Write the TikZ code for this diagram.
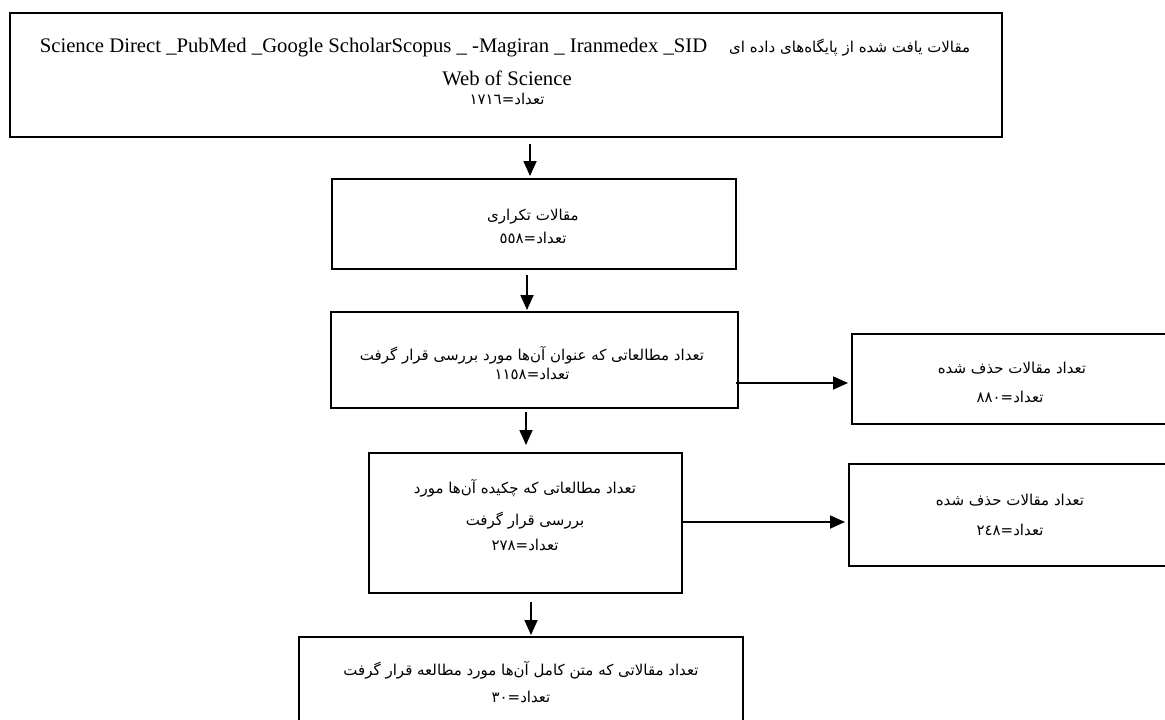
\documentclass[tikz,border=0pt]{standalone}
\usepackage{fontspec}
\setmainfont{Liberation Serif}
\newfontfamily\arabicfont[Script=Arabic]{DejaVu Sans}
\TeXXeTstate=1
\usetikzlibrary{arrows.meta}
\newcommand{\fa}[1]{{\arabicfont\fontsize{15}{18}\selectfont\beginR #1\endR}}
\newcommand{\cnt}[1]{{\arabicfont\fontsize{15}{18}\selectfont #1\kern0pt=\kern0pt}\fa{تعداد}}
\newcommand{\latinsize}{\fontsize{20.7}{24}\selectfont}
\tikzset{
  box/.style={draw, line width=1.8pt, rectangle, anchor=north west, inner sep=0pt},
  arr/.style={line width=1.8pt, -{Triangle[length=15pt,width=13pt]}},
  txt/.style={anchor=base, inner sep=0pt}
}
\begin{document}
\begin{tikzpicture}[x=1pt,y=-1pt]
\useasboundingbox (0,0) rectangle (1165,720);
\fill[white] (0,0) rectangle (1165,720);
\clip (0,0) rectangle (1165,720);
% boxes
\node[box, minimum width=992pt, minimum height=124pt] (top) at (9,12) {};
\node[box, minimum width=404pt, minimum height=90pt] (b2) at (331,178) {};
\node[box, minimum width=407pt, minimum height=96pt] (b3) at (330,311) {};
\node[box, minimum width=330pt, minimum height=90pt] (r1) at (851,333) {};
\node[box, minimum width=313pt, minimum height=140pt] (b4) at (368,452) {};
\node[box, minimum width=330pt, minimum height=102pt] (r2) at (848,463) {};
\node[box, minimum width=444pt, minimum height=110pt] (b5) at (298,636) {};
% texts
\node[txt] (t1) at (505,52) {\latinsize Science Direct \_PubMed \_Google ScholarScopus \_ -Magiran \_ Iranmedex \_SID\hspace{22pt}\fa{مقالات یافت شده از پایگاه‌های داده ای}};
\node[txt] (t2) at (507,85) {\latinsize Web of Science};
\node[txt] (t3) at (507,104) {\cnt{١٧١٦}};
\node[txt] (t4) at (533,220) {\fa{مقالات تکراری}};
\node[txt] (t5) at (533,243) {\cnt{٥٥٨}};
\node[txt] (t6) at (532,360) {\fa{تعداد مطالعاتی که عنوان آن‌ها مورد بررسی قرار گرفت}};
\node[txt] (t7) at (532,379) {\cnt{١١٥٨}};
\node[txt] (t8) at (1012,373) {\fa{تعداد مقالات حذف شده}};
\node[txt] (t9) at (1010,402) {\cnt{٨٨٠}};
\node[txt] (t10) at (525,493) {\fa{تعداد مطالعاتی که چکیده آن‌ها مورد}};
\node[txt] (t11) at (525,525) {\fa{بررسی قرار گرفت}};
\node[txt] (t12) at (525,550) {\cnt{٢٧٨}};
\node[txt] (t13) at (1010,505) {\fa{تعداد مقالات حذف شده}};
\node[txt] (t14) at (1010,535) {\cnt{٢٤٨}};
\node[txt] (t15) at (521,675) {\fa{تعداد مقالاتی که  متن کامل آن‌ها مورد مطالعه قرار گرفت}};
\node[txt] (t16) at (521,702) {\cnt{٣٠}};
% connector coordinates
\coordinate (ax1) at (530,0);
\coordinate (ax2) at (527,0);
\coordinate (ax3) at (526,0);
\coordinate (ax4) at (531,0);
\coordinate (ry1) at (0,383);
\coordinate (ry2) at (0,522);
% connectors
\draw[arr, shorten <=6pt, shorten >=2pt] (top.south -| ax1) -- (b2.north -| ax1);
\draw[arr, shorten <=5pt, shorten >=1pt] (b2.south -| ax2) -- (b3.north -| ax2);
\draw[arr, shorten <=3pt, shorten >=7pt] (b3.south -| ax3) -- (b4.north -| ax3);
\draw[arr, shorten <=8pt, shorten >=1pt] (b4.south -| ax4) -- (b5.north -| ax4);
\draw[arr, shorten <=-3pt, shorten >=3pt] (b3.east |- ry1) -- (r1.west |- ry1);
\draw[arr, shorten >=3pt] (b4.east |- ry2) -- (r2.west |- ry2);
\end{tikzpicture}
\end{document}
